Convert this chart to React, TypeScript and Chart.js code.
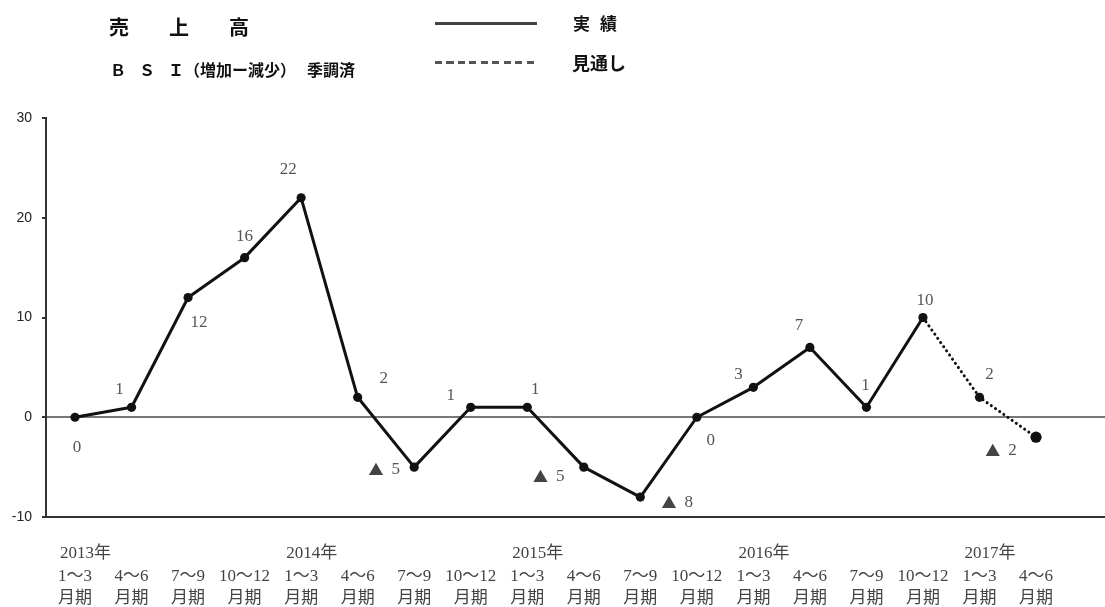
import React, { useEffect, useRef } from 'react';
import { Chart, registerables } from 'chart.js';

Chart.register(...registerables);

// ---------- data ----------
const QUARTERS = [
  '1～3', '4～6', '7～9', '10～12',
  '1～3', '4～6', '7～9', '10～12',
  '1～3', '4～6', '7～9', '10～12',
  '1～3', '4～6', '7～9', '10～12',
  '1～3', '4～6',
];
const YEARS = [
  '2013年', '', '', '',
  '2014年', '', '', '',
  '2015年', '', '', '',
  '2016年', '', '', '',
  '2017年', '',
];
const PERIOD_SUFFIX = '月期';
// 売上高 BSI（増加－減少）季調済 ; last two are 見通し
const SALES_BSI = [0, 1, 12, 16, 22, 2, -5, 1, 1, -5, -8, 0, 3, 7, 1, 10, 2, -2];
const FORECAST_START = 15; // segments from this index on are 見通し (dotted)
const Y_TICKS = [-10, 0, 10, 20, 30];
const NEGATIVE_MARK = '▲';

// placement of each value label relative to its point (px)
const LABEL_OFFSETS: [number, number][] = [
  [2, 30], [-12, -18], [11, 25], [0, -21], [-13, -28], [26, -19], [-30, 2], [-20, -12], [8, -18],
  [-35, 9], [37, 5], [14, 23], [-15, -13], [-11, -22], [-1, -22], [2, -17], [10, -23], [-35, 13],
];

const SERIF = "'Liberation Serif', 'Noto Sans CJK JP', serif";
const GOTHIC = "'Noto Sans CJK JP', 'Noto Sans', sans-serif";

export default function App() {
  const ref = useRef<HTMLCanvasElement>(null);

  useEffect(() => {
    const canvas = ref.current;
    if (!canvas) return;

    const valueLabels = {
      id: 'valueLabels',
      afterDatasetsDraw(chart: any) {
        const ctx = chart.ctx;
        const meta = chart.getDatasetMeta(0);
        ctx.save();
        ctx.textBaseline = 'middle';
        SALES_BSI.forEach((v, i) => {
          const p = meta.data[i];
          const [dx, dy] = LABEL_OFFSETS[i];
          const cx = p.x + dx;
          const cy = p.y + dy;
          const num = String(Math.abs(v));
          ctx.font = `17px ${SERIF}`;
          const numW = ctx.measureText(num).width;
          if (v < 0) {
            ctx.font = `15px ${GOTHIC}`;
            const markW = ctx.measureText(NEGATIVE_MARK).width;
            const gap = 8;
            const total = markW + gap + numW;
            const left = cx - total / 2;
            ctx.textAlign = 'left';
            ctx.fillStyle = '#444';
            ctx.fillText(NEGATIVE_MARK, left, cy);
            ctx.font = `17px ${SERIF}`;
            ctx.fillStyle = '#555';
            ctx.fillText(num, left + markW + gap, cy);
          } else {
            ctx.textAlign = 'center';
            ctx.fillStyle = '#555';
            ctx.fillText(num, cx, cy);
          }
        });
        ctx.restore();
      },
    };

    const yearLabels = {
      id: 'yearLabels',
      afterDraw(chart: any) {
        const ctx = chart.ctx;
        const xs = chart.scales.x;
        ctx.save();
        ctx.font = `17px ${SERIF}`;
        ctx.fillStyle = '#444';
        ctx.textAlign = 'left';
        ctx.textBaseline = 'middle';
        YEARS.forEach((yr, i) => {
          if (!yr) return;
          const px = xs.getPixelForValue(i);
          const w = ctx.measureText(QUARTERS[i]).width;
          ctx.fillText(yr, px - w / 2 + 2, chart.chartArea.bottom + 37);
        });
        ctx.restore();
      },
    };

    const chart = new Chart(canvas, {
      type: 'line',
      data: {
        datasets: [
          {
            label: '実績',
            data: SALES_BSI.map((v, i) => ({ x: i, y: v })),
            borderColor: '#111',
            borderWidth: 3,
            borderCapStyle: 'round',
            borderJoinStyle: 'round',
            pointBackgroundColor: '#111',
            pointBorderColor: '#111',
            pointBorderWidth: 0,
            pointRadius: (c: any) => (c.dataIndex === SALES_BSI.length - 1 ? 5.6 : 4.6),
            tension: 0,
            segment: {
              borderDash: (c: any) => (c.p0DataIndex >= FORECAST_START ? [0.1, 5] : []),
            },
          } as any,
        ],
      },
      options: {
        responsive: false,
        animation: false,
        layout: { autoPadding: false, padding: { top: 118, left: 0, right: 0, bottom: 0 } },
        plugins: { legend: { display: false }, tooltip: { enabled: false } },
        scales: {
          x: {
            type: 'linear',
            min: -0.513,
            max: 18.22,
            afterBuildTicks: (s: any) => {
              s.ticks = QUARTERS.map((_, i) => ({ value: i }));
            },
            afterFit: (s: any) => {
              s.height = 90;
              s.paddingLeft = 0;
              s.paddingRight = 0;
            },
            grid: { display: false, drawTicks: false },
            border: { display: true, color: '#333', width: 2 },
            ticks: {
              autoSkip: false,
              maxRotation: 0,
              minRotation: 0,
              padding: 48,
              color: '#444',
              font: { family: SERIF, size: 17, lineHeight: 1.3 },
              callback: (v: any) => [QUARTERS[v], PERIOD_SUFFIX],
            },
          },
          y: {
            min: -10,
            max: 30,
            afterBuildTicks: (s: any) => {
              s.ticks = Y_TICKS.map((v) => ({ value: v }));
            },
            afterFit: (s: any) => {
              s.width = 46;
            },
            grid: {
              color: (c: any) => (c.tick && c.tick.value === 0 ? '#777' : 'rgba(0,0,0,0)'),
              lineWidth: 2,
              tickColor: '#333',
              tickLength: 4,
            },
            border: { display: true, color: '#333', width: 2 },
            ticks: {
              padding: 10,
              color: '#222',
              font: { family: "'Liberation Sans', Arial, sans-serif", size: 14 },
            },
          },
        },
      } as any,
      plugins: [valueLabels, yearLabels],
    });
    return () => chart.destroy();
  }, []);

  const abs: React.CSSProperties = { position: 'absolute', whiteSpace: 'nowrap', color: '#111', fontFamily: GOTHIC, fontWeight: 700 };

  return (
    <div style={{ position: 'fixed', left: 0, top: 0, width: 1105, height: 607, background: '#fff', overflow: 'hidden' }}>
      <canvas ref={ref} width={1105} height={607} style={{ position: 'absolute', left: 0, top: 0, width: 1105, height: 607 }} />
      <div style={{ ...abs, left: 109, top: 17, fontSize: 20, lineHeight: '20px', letterSpacing: 40 }}>売上高</div>
      <div style={{ ...abs, left: 110, top: 61, fontSize: 16, lineHeight: '16px', letterSpacing: 13 }}>ＢＳＩ</div>
      <div style={{ ...abs, left: 184, top: 61, fontSize: 16, lineHeight: '16px' }}>（増加ー減少）</div>
      <div style={{ ...abs, left: 307, top: 61, fontSize: 16, lineHeight: '16px' }}>季調済</div>
      <div style={{ position: 'absolute', left: 435, top: 22, width: 102, height: 3, background: '#444' }} />
      <div style={{ ...abs, left: 573, top: 14, fontSize: 17, lineHeight: '17px', letterSpacing: 10 }}>実績</div>
      <div
        style={{
          position: 'absolute',
          left: 435,
          top: 61,
          width: 102,
          height: 3,
          background: 'repeating-linear-gradient(to right, #555 0px, #555 7px, transparent 7px, transparent 11.5px)',
        }}
      />
      <div style={{ ...abs, left: 572, top: 53, fontSize: 18, lineHeight: '18px' }}>見通し</div>
    </div>
  );
}
